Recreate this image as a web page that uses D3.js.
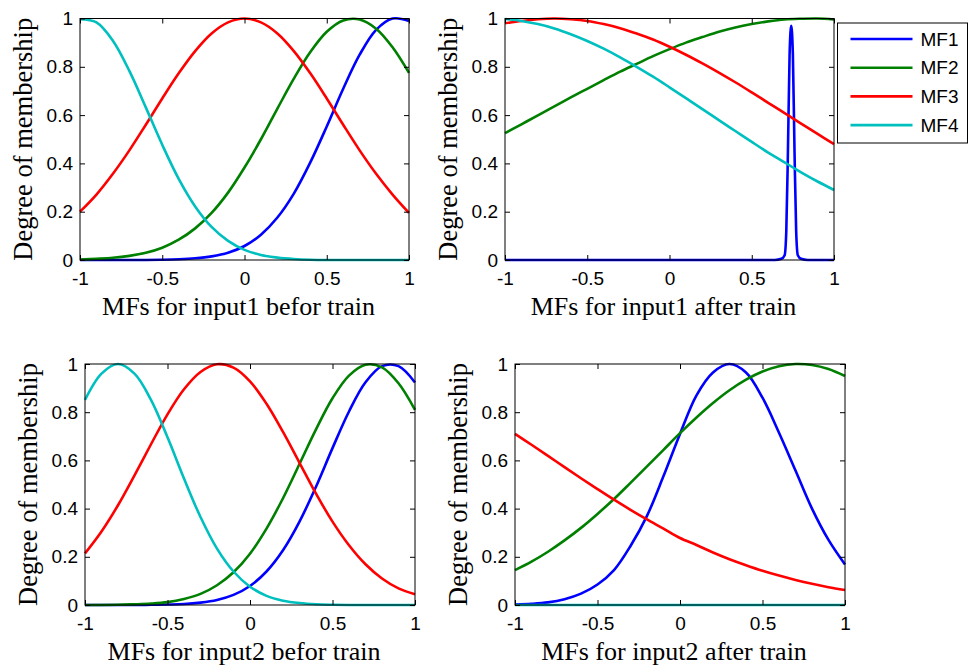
<!DOCTYPE html>
<html>
<head>
<meta charset="utf-8">
<script src="https://cdn.jsdelivr.net/npm/d3@7"></script>
<style>
  body { margin: 0; background: #fff; }
  .tick text { font-family: "Liberation Sans", Arial, sans-serif; font-size: 19px; fill: #000; }
  .tick line { stroke: #000; }
  .lbl { font-family: "Liberation Serif", "Times New Roman", serif; fill: #000; }
</style>
</head>
<body>
<svg id="chart" width="970" height="666"></svg>
<script>
// sample points
const xGrid = [-1,-0.9,-0.8,-0.7,-0.6,-0.5,-0.4,-0.3,-0.2,-0.1,0,0.1,0.2,0.3,0.4,0.5,0.6,0.7,0.8,0.9,1];
const xTicks = [-1,-0.5,0,0.5,1];
const yTicks = [0,0.2,0.4,0.6,0.8,1];
const mfNames = ["MF1","MF2","MF3","MF4"];
const mfColors = ["#0000ff","#008000","#ff0000","#00bfbf"];
const xLabels = ["MFs for input1 befor train","MFs for input1 after train","MFs for input2 befor train","MFs for input2 after train"];

// input1 before training
const in1BeforeMF1 = [0,0,0,0,0,0.001,0.003,0.007,0.015,0.03,0.058,0.105,0.176,0.275,0.404,0.553,0.709,0.85,0.953,1,0.99];
const in1BeforeMF2 = [0.002,0.005,0.009,0.017,0.03,0.051,0.084,0.131,0.195,0.279,0.383,0.5,0.627,0.751,0.861,0.945,0.992,0.996,0.958,0.881,0.775];
const in1BeforeMF3 = [0.2,0.271,0.357,0.454,0.56,0.669,0.773,0.865,0.938,0.984,1,0.984,0.938,0.865,0.773,0.669,0.56,0.454,0.357,0.271,0.195];
const in1BeforeMF4 = [0.997,0.984,0.908,0.783,0.632,0.477,0.336,0.222,0.137,0.079,0.042,0.021,0.01,0.004,0.001,0,0,0,0,0,0];

// input1 after training (MF1 is a narrow spike, own x points)
const in1AfterMF1X = [-1,0.64,0.68,0.70,0.71,0.72,0.73,0.74,0.75,0.76,0.77,0.78,0.80,0.84,1];
const in1AfterMF1 = [0,0,0.005,0.02,0.12,0.45,0.85,0.97,0.85,0.45,0.12,0.02,0.005,0,0];
const in1AfterMF2 = [0.525,0.562,0.599,0.636,0.673,0.709,0.745,0.78,0.812,0.844,0.873,0.9,0.923,0.945,0.963,0.977,0.988,0.996,0.999,1,0.996];
const in1AfterMF3 = [0.98,0.99,0.997,1,0.997,0.99,0.977,0.96,0.938,0.913,0.883,0.85,0.814,0.776,0.736,0.694,0.651,0.608,0.565,0.522,0.48];
const in1AfterMF4 = [0.998,0.99,0.977,0.959,0.935,0.907,0.875,0.839,0.8,0.759,0.715,0.67,0.625,0.579,0.534,0.489,0.445,0.404,0.363,0.325,0.29];

// input2 before training
const in2BeforeMF1 = [0,0,0,0,0.001,0.002,0.004,0.01,0.021,0.042,0.079,0.139,0.227,0.346,0.491,0.651,0.803,0.924,0.991,0.991,0.923];
const in2BeforeMF2 = [0,0,0.001,0.003,0.006,0.012,0.025,0.046,0.082,0.136,0.213,0.317,0.443,0.585,0.729,0.858,0.952,0.997,0.986,0.92,0.81];
const in2BeforeMF3 = [0.214,0.305,0.414,0.538,0.667,0.791,0.895,0.967,0.999,0.985,0.928,0.835,0.718,0.59,0.462,0.346,0.248,0.169,0.11,0.069,0.045];
const in2BeforeMF4 = [0.851,0.96,1,0.96,0.851,0.696,0.525,0.365,0.234,0.139,0.076,0.038,0.018,0.008,0.003,0.001,0,0,0,0,0];

// input2 after training
const in2AfterMF1 = [0.002,0.005,0.011,0.024,0.047,0.085,0.145,0.245,0.37,0.535,0.71,0.87,0.965,1,0.965,0.86,0.715,0.558,0.4,0.27,0.168];
const in2AfterMF2 = [0.145,0.18,0.221,0.268,0.32,0.378,0.44,0.507,0.575,0.644,0.713,0.778,0.838,0.891,0.935,0.969,0.991,1,0.996,0.979,0.95];
const in2AfterMF3 = [0.71,0.665,0.619,0.572,0.526,0.481,0.437,0.395,0.355,0.317,0.278,0.249,0.218,0.19,0.165,0.142,0.122,0.104,0.088,0.074,0.062];
const in2AfterMF4 = [0,0,0,0,0,0,0,0,0,0,0,0,0,0,0,0,0,0,0,0,0];

var boxes = [
  {x0: 80, x1: 409, y0: 18.5, y1: 260},
  {x0: 505, x1: 834, y0: 18.5, y1: 260},
  {x0: 85, x1: 415, y0: 364, y1: 605},
  {x0: 515, x1: 845, y0: 364, y1: 605}
];

var panels = [
  [[xGrid, in1BeforeMF1], [xGrid, in1BeforeMF2], [xGrid, in1BeforeMF3], [xGrid, in1BeforeMF4]],
  [[in1AfterMF1X, in1AfterMF1], [xGrid, in1AfterMF2], [xGrid, in1AfterMF3], [xGrid, in1AfterMF4]],
  [[xGrid, in2BeforeMF1], [xGrid, in2BeforeMF2], [xGrid, in2BeforeMF3], [xGrid, in2BeforeMF4]],
  [[xGrid, in2AfterMF1], [xGrid, in2AfterMF2], [xGrid, in2AfterMF3], [xGrid, in2AfterMF4]]
];

var svg = d3.select("#chart");
svg.append("rect").attr("width", 970).attr("height", 666).attr("fill", "#fff");

panels.forEach((series, i) => {
  var b = boxes[i],
      w = b.x1 - b.x0,
      h = b.y1 - b.y0;

  var x = d3.scaleLinear().domain([-1, 1]).range([0, w]);
  var y = d3.scaleLinear().domain([0, 1]).range([h, 0]);

  var g = svg.append("g").attr("transform", "translate(" + b.x0 + "," + b.y0 + ")");

  // curves, MF1 first so MF4 ends up on top
  series.forEach((s, j) => {
    var pts = s[0].map((v, k) => [v, s[1][k]]);
    // the spike keeps to its points, the rest is smoothed
    var line = d3.line()
        .x((d) => x(d[0]))
        .y((d) => y(Math.max(0, Math.min(1, d[1]))))
        .curve(s[0] === xGrid ? d3.curveCatmullRom.alpha(0.5) : d3.curveMonotoneX);
    g.append("path")
      .datum(pts)
      .attr("fill", "none")
      .attr("stroke", mfColors[j])
      .attr("stroke-width", 2.6)
      .attr("stroke-linejoin", "round")
      .attr("d", line);
  });

  // inward ticks on all four sides
  var fmt = (d) => String(d);
  g.append("g")
    .call(d3.axisLeft(y).tickValues(yTicks).tickFormat(fmt).tickSizeInner(-5).tickSizeOuter(0).tickPadding(7))
    .call((a) => a.select(".domain").remove());
  g.append("g")
    .attr("transform", "translate(" + w + ",0)")
    .call(d3.axisRight(y).tickValues(yTicks).tickFormat("").tickSizeInner(-5).tickSizeOuter(0))
    .call((a) => a.select(".domain").remove());
  g.append("g")
    .attr("transform", "translate(0," + h + ")")
    .call(d3.axisBottom(x).tickValues(xTicks).tickFormat(fmt).tickSizeInner(-5).tickSizeOuter(0).tickPadding(12))
    .call((a) => a.select(".domain").remove());
  g.append("g")
    .call(d3.axisTop(x).tickValues(xTicks).tickFormat("").tickSizeInner(-5).tickSizeOuter(0))
    .call((a) => a.select(".domain").remove());

  g.selectAll(".tick text").attr("fill", "#000");

  g.append("rect")
    .attr("width", w)
    .attr("height", h)
    .attr("fill", "none")
    .attr("stroke", "#000")
    .attr("stroke-width", 1);

  g.append("text")
    .attr("class", "lbl")
    .attr("text-anchor", "middle")
    .attr("font-size", 26)
    .attr("x", w / 2 - 6)
    .attr("y", h + 55)
    .text(xLabels[i]);

  g.append("text")
    .attr("class", "lbl")
    .attr("text-anchor", "middle")
    .attr("font-size", 26.5)
    .attr("transform", "translate(" + (-48.5) + "," + (h / 2) + ")rotate(-90)")
    .text("Degree of membership");
});

// legend beside the top right panel
var leg = svg.append("g").attr("transform", "translate(837.5,23)");
leg.append("rect")
  .attr("width", 130)
  .attr("height", 120)
  .attr("fill", "#fff")
  .attr("stroke", "#000")
  .attr("stroke-width", 1);

var item = leg.selectAll(".item")
    .data(mfNames)
  .enter().append("g")
    .attr("class", "item")
    .attr("transform", (d, i) => "translate(0," + (16 + i * 28.7) + ")");

item.append("line")
  .attr("x1", 13).attr("x2", 75)
  .attr("stroke", (d, i) => mfColors[i])
  .attr("stroke-width", 2.6);

item.append("text")
  .attr("x", 83)
  .attr("dy", "0.35em")
  .style("font-family", "'Liberation Sans', Arial, sans-serif")
  .style("font-size", "19px")
  .text((d) => d);
</script>
</body>
</html>
